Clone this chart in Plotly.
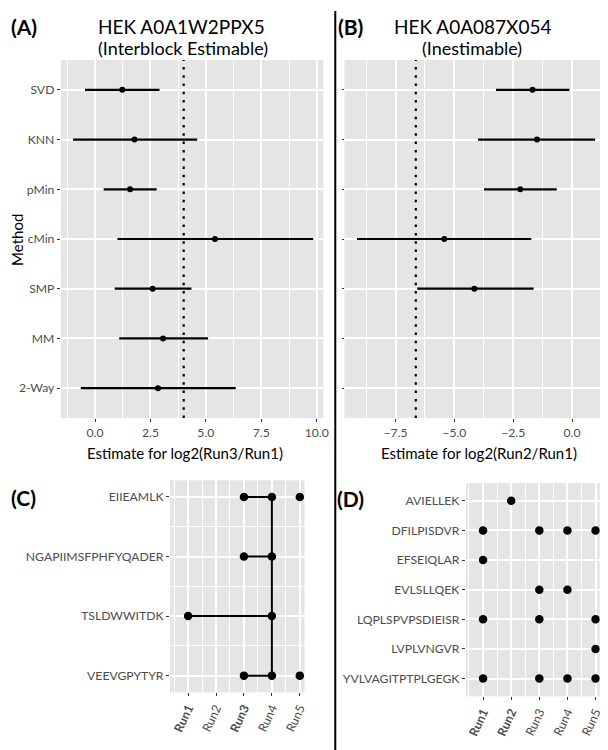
import plotly.graph_objects as go

# ---------------- data ----------------
methods = ["SVD", "KNN", "pMin", "cMin", "SMP", "MM", "2-Way"]

# Panel A: HEK A0A1W2PPX5 (Interblock Estimable), log2(Run3/Run1)
a_est = [1.23, 1.78, 1.58, 5.41, 2.60, 3.07, 2.84]
a_low = [-0.45, -0.99, 0.39, 1.01, 0.89, 1.09, -0.64]
a_high = [2.91, 4.61, 2.78, 9.84, 4.35, 5.10, 6.35]
a_ref = 4.0

# Panel B: HEK A0A087X054 (Inestimable), log2(Run2/Run1)
b_methods = ["SVD", "KNN", "pMin", "cMin", "SMP"]
b_est = [-1.68, -1.49, -2.20, -5.43, -4.15]
b_low = [-3.23, -3.99, -3.74, -9.14, -6.58]
b_high = [-0.11, 0.98, -0.65, -1.73, -1.63]
b_ref = -6.64

runs = ["Run1", "Run2", "Run3", "Run4", "Run5"]

# Panel C: peptides observed per run
c_peptides = ["EIIEAMLK", "NGAPIIMSFPHFYQADER", "TSLDWWITDK", "VEEVGPYTYR"]
c_pts_pep = ["EIIEAMLK", "EIIEAMLK", "EIIEAMLK",
             "NGAPIIMSFPHFYQADER", "NGAPIIMSFPHFYQADER",
             "TSLDWWITDK", "TSLDWWITDK",
             "VEEVGPYTYR", "VEEVGPYTYR", "VEEVGPYTYR"]
c_pts_run = ["Run3", "Run4", "Run5",
             "Run3", "Run4",
             "Run1", "Run4",
             "Run3", "Run4", "Run5"]
# connecting segments (peptide, from run, to run)
c_hsegs = [("EIIEAMLK", "Run3", "Run4"),
           ("NGAPIIMSFPHFYQADER", "Run3", "Run4"),
           ("TSLDWWITDK", "Run1", "Run4"),
           ("VEEVGPYTYR", "Run3", "Run4")]
c_vseg = ("Run4", "EIIEAMLK", "VEEVGPYTYR")
c_bold = ["Run1", "Run3"]

# Panel D
d_peptides = ["AVIELLEK", "DFILPISDVR", "EFSEIQLAR", "EVLSLLQEK",
              "LQPLSPVPSDIEISR", "LVPLVNGVR", "YVLVAGITPTPLGEGK"]
d_pts_pep = ["AVIELLEK",
             "DFILPISDVR", "DFILPISDVR", "DFILPISDVR", "DFILPISDVR",
             "EFSEIQLAR",
             "EVLSLLQEK", "EVLSLLQEK",
             "LQPLSPVPSDIEISR", "LQPLSPVPSDIEISR", "LQPLSPVPSDIEISR",
             "LVPLVNGVR",
             "YVLVAGITPTPLGEGK", "YVLVAGITPTPLGEGK", "YVLVAGITPTPLGEGK", "YVLVAGITPTPLGEGK"]
d_pts_run = ["Run2",
             "Run1", "Run3", "Run4", "Run5",
             "Run1",
             "Run3", "Run4",
             "Run1", "Run3", "Run5",
             "Run5",
             "Run1", "Run3", "Run4", "Run5"]
d_bold = ["Run1", "Run2"]

# ---------------- figure ----------------
W, H = 608, 750
FONT = "Lato"
TICKC = "#4D4D4D"
BG = "#E5E5E5"


def px(x):
    return x / W


def py(y):
    return 1 - y / H


fig = go.Figure()

# Panel A
fig.add_trace(go.Scatter(
    x=a_est, y=methods, mode="markers", xaxis="x", yaxis="y",
    marker=dict(color="black", size=6),
    error_x=dict(type="data", symmetric=False,
                 array=[h - e for h, e in zip(a_high, a_est)],
                 arrayminus=[e - l for e, l in zip(a_est, a_low)],
                 color="black", thickness=2.2, width=0),
    showlegend=False, hoverinfo="skip"))

# Panel B
fig.add_trace(go.Scatter(
    x=b_est, y=b_methods, mode="markers", xaxis="x2", yaxis="y2",
    marker=dict(color="black", size=6),
    error_x=dict(type="data", symmetric=False,
                 array=[h - e for h, e in zip(b_high, b_est)],
                 arrayminus=[e - l for e, l in zip(b_est, b_low)],
                 color="black", thickness=2.2, width=0),
    showlegend=False, hoverinfo="skip"))

# Panel C
ridx = {r: i + 1 for i, r in enumerate(runs)}
cidx = {p: i + 1 for i, p in enumerate(c_peptides)}
for pep, r0, r1 in c_hsegs:
    fig.add_trace(go.Scatter(
        x=[ridx[r0], ridx[r1]], y=[cidx[pep], cidx[pep]], mode="lines",
        xaxis="x3", yaxis="y3", line=dict(color="black", width=2),
        showlegend=False, hoverinfo="skip"))
fig.add_trace(go.Scatter(
    x=[ridx[c_vseg[0]], ridx[c_vseg[0]]], y=[cidx[c_vseg[1]], cidx[c_vseg[2]]],
    mode="lines", xaxis="x3", yaxis="y3", line=dict(color="black", width=2),
    showlegend=False, hoverinfo="skip"))
fig.add_trace(go.Scatter(
    x=[ridx[r] for r in c_pts_run], y=[cidx[p] for p in c_pts_pep],
    mode="markers", xaxis="x3", yaxis="y3",
    marker=dict(color="black", size=8.5), showlegend=False, hoverinfo="skip"))

# Panel D
fig.add_trace(go.Scatter(
    x=[ridx[r] for r in d_pts_run], y=d_pts_pep,
    mode="markers", xaxis="x4", yaxis="y4",
    marker=dict(color="black", size=8.5), showlegend=False, hoverinfo="skip"))

common_ax = dict(showline=False, zeroline=False, ticks="outside", ticklen=3,
                 tickcolor="#333333", tickwidth=1, showgrid=True,
                 gridcolor="white", gridwidth=1.6,
                 tickfont=dict(family=FONT, size=12.2, color=TICKC))

minor_lin = dict(showgrid=True, gridcolor="white", gridwidth=0.8, ticks="")

fig.update_layout(
    width=W, height=H, margin=dict(l=0, r=0, t=0, b=0),
    paper_bgcolor="white", plot_bgcolor=BG,
    font=dict(family=FONT, color="black"),
    xaxis=dict(domain=[px(53.3), px(318)], anchor="y", range=[-1.54, 10.3],
               tick0=0, dtick=2.5, tickformat=".1f",
               minor=dict(dtick=1.25, tick0=0, **minor_lin), **common_ax),
    yaxis=dict(domain=[py(410), py(52)], anchor="x", type="category",
               categoryorder="array", categoryarray=methods,
               range=[6.6, -0.6], **common_ax),
    xaxis2=dict(domain=[px(339.3), px(605)], anchor="y2", range=[-9.67, 1.53],
                tick0=0, dtick=2.5, tickformat=".1f",
                minor=dict(dtick=1.25, tick0=0, **minor_lin), **common_ax),
    yaxis2=dict(domain=[py(410), py(52)], anchor="x2", type="category",
                categoryorder="array", categoryarray=methods,
                range=[6.6, -0.6], showticklabels=False,
                **{k: v for k, v in common_ax.items() if k != "ticklen"}, ticklen=1.5),
    xaxis3=dict(domain=[px(163.3), px(299)], anchor="y3", range=[0.35, 5.17],
                tickmode="array", tickvals=[ridx[r] for r in runs],
                ticktext=[f"<b>{r}</b>" if r in c_bold else r for r in runs],
                tickangle=-65,
                minor=dict(tickmode="linear", tick0=0.5, dtick=1, **minor_lin),
                **common_ax),
    yaxis3=dict(domain=[py(684.3), py(472.3)], anchor="x3", range=[4.28, 0.72],
                tickmode="array", tickvals=[cidx[p] for p in c_peptides],
                ticktext=c_peptides,
                minor=dict(tickmode="linear", tick0=0.5, dtick=1, **minor_lin),
                **common_ax),
    xaxis4=dict(domain=[px(461.7), px(596.7)], anchor="y4", range=[0.39, 5.15],
                tickmode="array", tickvals=[ridx[r] for r in runs],
                ticktext=[f"<b>{r}</b>" if r in d_bold else r for r in runs],
                tickangle=-65,
                minor=dict(tickmode="linear", tick0=0.5, dtick=1, **minor_lin),
                **common_ax),
    yaxis4=dict(domain=[py(688.3), py(475)], anchor="x4", type="category",
                categoryorder="array", categoryarray=d_peptides,
                range=[6.6, -0.6], **common_ax),
)

# reference dotted lines
fig.add_shape(type="line", xref="x", yref="y domain", x0=a_ref, x1=a_ref, y0=0, y1=1,
              line=dict(color="black", width=2.2, dash="2.5px,5.8px"))
fig.add_shape(type="line", xref="x2", yref="y2 domain", x0=b_ref, x1=b_ref, y0=0, y1=1,
              line=dict(color="black", width=2.2, dash="2.5px,5.8px"))

# divider
fig.add_shape(type="line", xref="paper", yref="paper", x0=px(330), x1=px(330),
              y0=py(745), y1=py(3), line=dict(color="black", width=2))


def text(x, y, s, size, bold=False, angle=0, xanchor="center"):
    fig.add_annotation(x=px(x), y=py(y), xref="paper", yref="paper",
                       text=f"<b>{s}</b>" if bold else s, showarrow=False,
                       xanchor=xanchor, yanchor="middle", textangle=angle,
                       font=dict(family=FONT, size=size, color="black"))


text(1, 19, "(A)", 21, bold=True, xanchor="left")
text(331, 19, "(B)", 21, bold=True, xanchor="left")
text(1, 489.5, "(C)", 21, bold=True, xanchor="left")
text(330, 490, "(D)", 21, bold=True, xanchor="left")

text(175, 19, "HEK A0A1W2PPX5", 19)
text(176.7, 40, "(Interblock Estimable)", 18)
text(469, 19, "HEK A0A087X054", 19)
text(467.5, 40, "(Inestimable)", 18)

text(9, 232, "Method", 15, angle=-90)
text(178, 445, "Estimate for log2(Run3/Run1)", 15)
text(474.5, 445, "Estimate for log2(Run2/Run1)", 15)

fig.write_html("out.html")
